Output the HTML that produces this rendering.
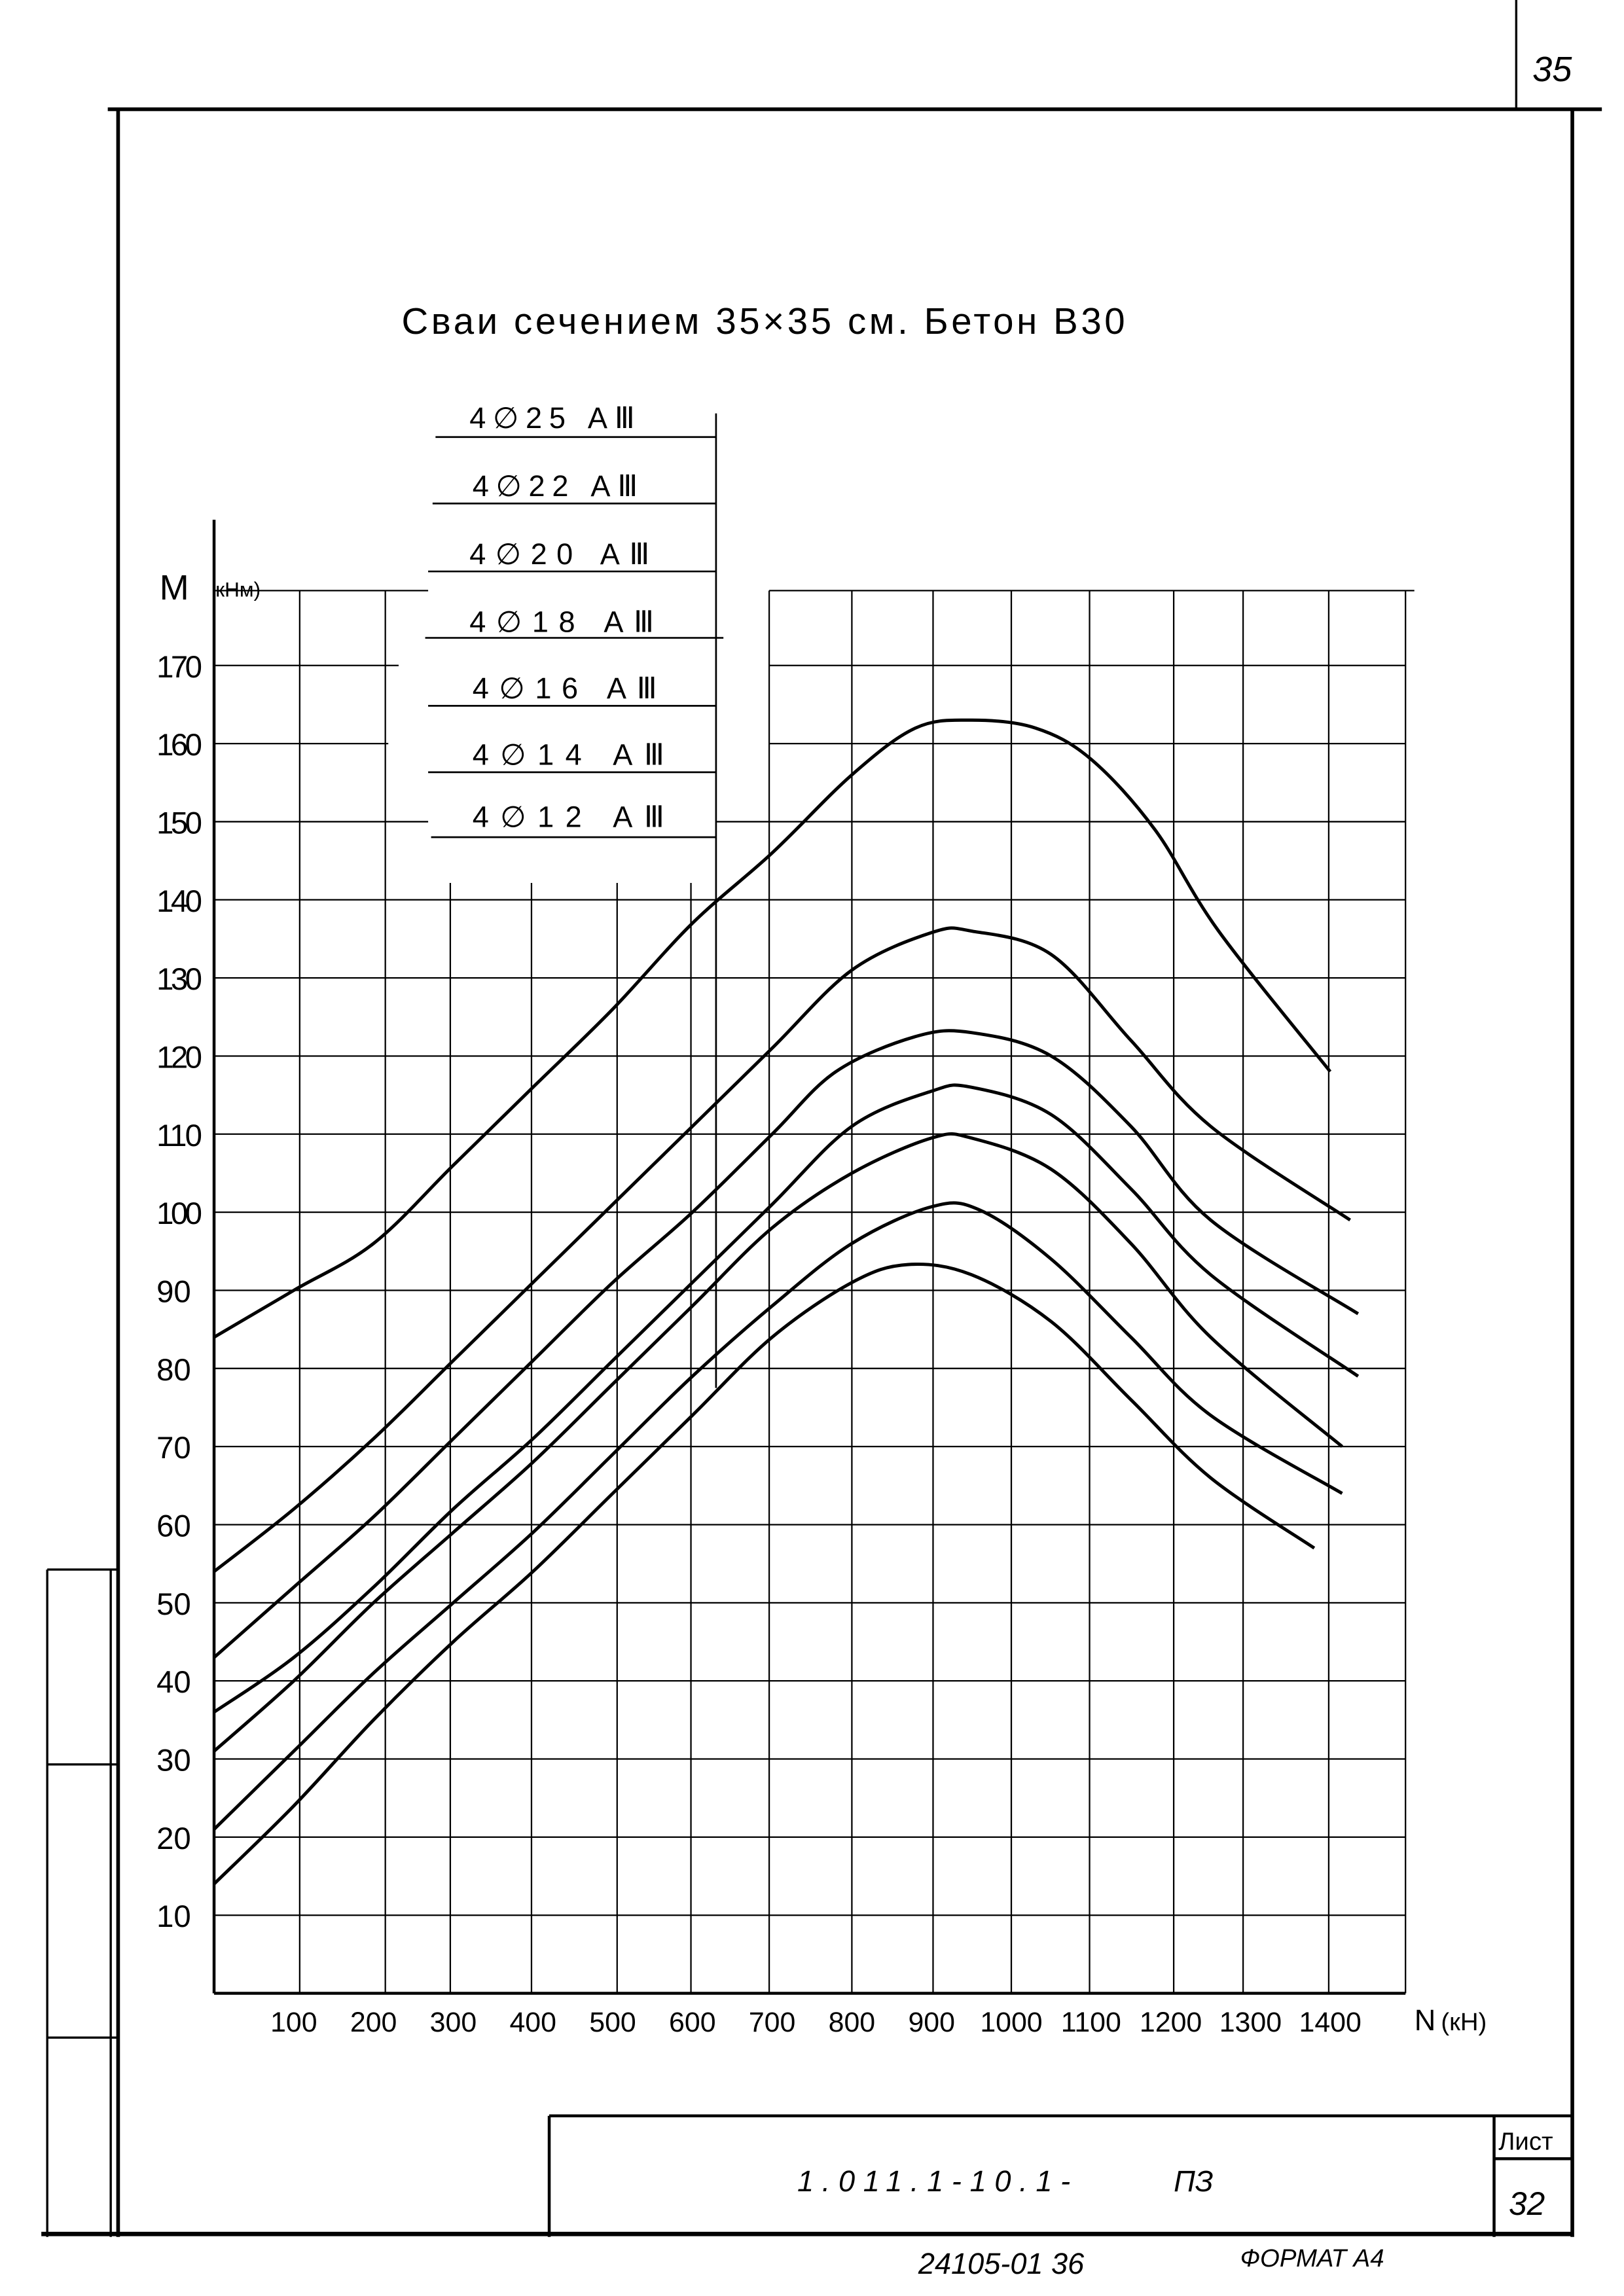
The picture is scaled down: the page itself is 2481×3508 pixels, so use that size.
<!DOCTYPE html>
<html><head><meta charset="utf-8"><style>
html,body{margin:0;padding:0;background:#fff}
svg{display:block}
text{font-family:"Liberation Sans Narrow","Liberation Sans","DejaVu Sans",sans-serif;fill:#000}
</style></head><body>
<svg id="s" width="2481" height="3508" viewBox="0 0 1100 1555" preserveAspectRatio="none" xmlns="http://www.w3.org/2000/svg">
<g stroke="#000" fill="none">
<path d="M73 74 H1085" stroke-width="2.5"/>
<path d="M1027 0 V73" stroke-width="1.5"/>
<path d="M80 74 V1515" stroke-width="2.5"/>
<path d="M1065 74 V1515" stroke-width="2.5"/>
<path d="M28 1513 H1065" stroke-width="3"/>
<path d="M32 1063 V1515 M75 1063 V1515" stroke-width="1.5"/>
<path d="M32 1063 H80 M32 1195 H80 M32 1380 H80" stroke-width="1.5"/>
<path d="M372 1433 H1065 M372 1433 V1515 M1012 1433 V1515 M1012 1462 H1065" stroke-width="2"/>
<path d="M145 352 V1350 M145 1350 H952" stroke-width="2"/>
<path d="M485 280 V940" stroke-width="1.2"/>
<path d="M295 296 H485 M293 341 H485 M290 387 H485 M288 432 H490 M290 478 H485 M290 523 H485 M292 567 H485" stroke-width="1.2"/>
<g id="grid" stroke-width="1"></g>
<g id="curves" stroke-width="2.2"></g>
</g>
<g font-size="20">
<text x="272" y="226" font-size="25" textLength="490">Сваи сечением  35×35 см. Бетон В30</text>
<text x="318" y="290" textLength="112">4∅25 АⅢ</text>
<text x="320" y="336" textLength="112">4∅22 АⅢ</text>
<text x="318" y="382" textLength="122">4∅20 АⅢ</text>
<text x="318" y="428" textLength="125">4∅18 АⅢ</text>
<text x="320" y="473" textLength="125">4∅16 АⅢ</text>
<text x="320" y="518" textLength="130">4∅14 АⅢ</text>
<text x="320" y="560" textLength="130">4∅12 АⅢ</text>
<text x="108" y="406" font-size="24">M</text>
<text x="146" y="404" font-size="14">кНм)</text>
<text x="958" y="1375" font-size="20">N</text>
<text x="976" y="1375" font-size="17">(кН)</text>
<text x="1038" y="55" font-size="24" font-style="italic">35</text>
<text x="540" y="1484" font-size="20" font-style="italic" textLength="185">1.011.1-10.1-</text>
<text x="795" y="1484" font-size="20" font-style="italic">ПЗ</text>
<text x="1015" y="1456" font-size="17">Лист</text>
<text x="1022" y="1500" font-size="22" font-style="italic">32</text>
<text x="622" y="1540" font-size="20" font-style="italic">24105-01  36</text>
<text x="840" y="1535" font-size="17" font-style="italic">ФОРМАТ А4</text>
</g>
<g id="labels" font-size="21"></g>
</svg>
<script>
(function(){
var NS="http://www.w3.org/2000/svg";
function X(n){return 145+n/100*54.0;}
function Y(m){return 1350-m/10*52.9;}
function el(p,t,a){var e=document.createElementNS(NS,t);for(var k in a)e.setAttribute(k,a[k]);document.getElementById(p).appendChild(e);return e;}
var vx=[203,261,305,360,418,468,521,577,632,685,738,795,842,900,952];
for(var i=0;i<vx.length;i++){var ty=(i<2)?400:(i<6?598:400);el("grid","path",{d:"M"+vx[i]+" "+ty+" V1350"});}
for(var m=10;m<=170;m+=10){var y=Y(m);
 if(m>=160){el("grid","path",{d:"M145 "+y+" H"+(m==170?270:263)+" M521 "+y+" H952"});}
 else if(m==150){el("grid","path",{d:"M145 "+y+" H290 M485 "+y+" H952"});}
 else el("grid","path",{d:"M145 "+y+" H952"});
 var a={x:106,y:y+8};if(m>=100)a.textLength="31";
 var t=el("labels","text",a);t.textContent=m;}
el("grid","path",{d:"M145 400 H290 M521 400 H958"});
var xl=[100,200,300,400,500,600,700,800,900,1000,1100,1200,1300,1400];
for(var i=0;i<xl.length;i++){var t=el("labels","text",{x:X(xl[i]),y:1376,"text-anchor":"middle","font-size":"19"});t.textContent=xl[i];}
var C=[
[[0,84],[100,90],[200,96],[300,106],[400,116],[500,126],[600,137],[700,146],[800,156],[880,162],[950,163],[1030,162],[1100,158],[1180,149],[1260,136],[1400,118]],
[[0,54],[100,62],[200,71],[300,81],[400,91],[500,101],[600,111],[700,121],[800,131],[900,135.8],[950,136],[1050,133],[1150,122],[1250,111],[1425,99]],
[[0,43],[100,52],[200,61],[300,71],[400,81],[500,91],[600,100],[700,110],[780,118],[880,122.5],[950,123],[1050,120],[1150,111],[1250,99],[1435,87]],
[[0,36],[100,43],[200,52],[300,62],[400,71],[500,81],[600,91],[700,101],[800,111],[900,115.5],[950,116],[1050,112.5],[1150,103],[1250,92],[1435,79]],
[[0,31],[100,40],[200,50],[300,59],[400,68],[500,78],[600,88],[700,98],[800,105],[900,109.5],[950,109.5],[1050,105.5],[1150,96],[1250,84],[1415,70]],
[[0,21],[100,31],[200,41],[300,50],[400,59],[500,69],[600,79],[700,88],[800,96],[900,100.7],[960,100.3],[1050,94],[1150,84],[1250,74],[1415,64]],
[[0,14],[100,24],[200,35],[300,45],[400,54],[500,64],[600,74],[700,84],[800,91],[870,93.3],[950,92],[1050,86],[1150,76],[1250,66],[1380,57]]];
for(var c=0;c<C.length;c++){var p=C[c].map(function(q){return [X(q[0]),Y(q[1])];});
 var d="M"+p[0][0]+" "+p[0][1];
 for(var i=0;i<p.length-1;i++){var p0=p[i-1]||p[i],p1=p[i],p2=p[i+1],p3=p[i+2]||p2;
  d+=" C"+(p1[0]+(p2[0]-p0[0])/6)+" "+(p1[1]+(p2[1]-p0[1])/6)+" "+(p2[0]-(p3[0]-p1[0])/6)+" "+(p2[1]-(p3[1]-p1[1])/6)+" "+p2[0]+" "+p2[1];}
 el("curves","path",{d:d});}
})();
</script>
</body></html>
